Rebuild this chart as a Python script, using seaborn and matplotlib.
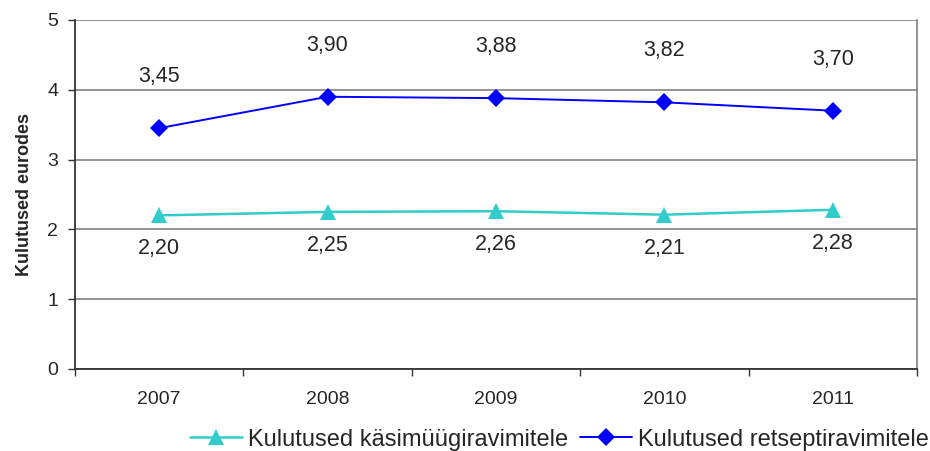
import matplotlib
matplotlib.use("Agg")
import matplotlib.pyplot as plt
import seaborn as sns
import pandas as pd
from matplotlib.ticker import FixedLocator

years = ["2007", "2008", "2009", "2010", "2011"]
otc_values = [2.20, 2.25, 2.26, 2.21, 2.28]
rx_values = [3.45, 3.90, 3.88, 3.82, 3.70]
otc_label = "Kulutused käsimüügiravimitele"
rx_label = "Kulutused retseptiravimitele"
y_label = "Kulutused eurodes"

sns.set_theme(style="white")
plt.rcParams["font.family"] = ["Liberation Sans", "DejaVu Sans"]

otc = pd.DataFrame({"Aasta": years, "Kulutused": otc_values})
rx = pd.DataFrame({"Aasta": years, "Kulutused": rx_values})

fig = plt.figure(figsize=(9.3, 4.51), dpi=100)
ax = fig.add_axes([0.0806, 0.182, 0.9054, 0.7737])

sns.lineplot(data=otc, x="Aasta", y="Kulutused", color="#33CCCC", marker="^",
             markersize=12, linewidth=1.8, markeredgewidth=0, ax=ax, label=otc_label)
sns.lineplot(data=rx, x="Aasta", y="Kulutused", color="#0000FF", marker="D",
             markersize=9, linewidth=1.4, markeredgewidth=0, ax=ax, label=rx_label)

# andmesildid
for i, v in enumerate(otc_values):
    ax.annotate(f"{v:.2f}".replace(".", ","), (i, v), xytext=(0, -24),
                textcoords="offset points", ha="center", va="center", fontsize=15.5)
for i, v in enumerate(rx_values):
    ax.annotate(f"{v:.2f}".replace(".", ","), (i, v), xytext=(0, 37),
                textcoords="offset points", ha="center", va="center", fontsize=15.5)

ax.set_xlim(-0.5, len(years) - 0.5)
ax.set_ylim(0, 5)
ax.set_yticks(range(0, 6))
ax.yaxis.grid(True, color="#808080", linewidth=1.2)
ax.set_axisbelow(True)
ax.tick_params(axis="y", labelsize=14, length=5, width=1, color="#333333",
               left=True, direction="out", pad=7)
ax.set_xticks(range(len(years)))
ax.set_xticklabels(years)
ax.tick_params(axis="x", which="major", length=0, labelsize=14, pad=16)
ax.xaxis.set_minor_locator(FixedLocator([i - 0.5 for i in range(len(years) + 1)]))
ax.tick_params(axis="x", which="minor", length=5, width=1, color="#333333",
               bottom=True, direction="out")

for side in ["left", "bottom"]:
    ax.spines[side].set_color("#333333")
    ax.spines[side].set_linewidth(1.3)
ax.spines["right"].set_color("#808080")
ax.spines["right"].set_linewidth(1.2)
ax.spines["top"].set_visible(False)

ax.set_xlabel("")
ax.set_ylabel(y_label, fontsize=13, fontweight="bold", labelpad=10)

handles, labels = ax.get_legend_handles_labels()
ax.legend(handles, labels, loc="center", bbox_to_anchor=(0.575, -0.203),
          ncol=2, frameon=False, fontsize=17, handlelength=2.2,
          handletextpad=0.26, columnspacing=0.5, borderaxespad=0)

fig.savefig("out.png", dpi=100)
